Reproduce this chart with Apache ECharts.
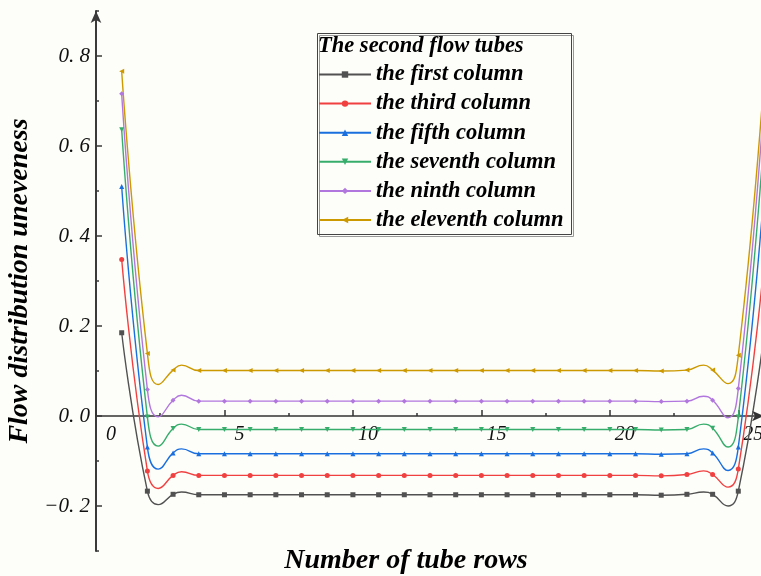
<!DOCTYPE html>
<html lang="en">
	<head>
		<meta charset="UTF-8">
		<title></title>
		<style type="text/css">
			html,
			body {
				width: 100%;
				height: 100%;
				margin: 0;
				padding: 0;
				background: #fdfdf9;
			}

			#main {
				width: 761px;
				height: 576px;
			}
		</style>
	</head>
	<body>
		<div id="main"></div>

		<script src="https://cdn.jsdelivr.net/npm/echarts@6/dist/echarts.min.js" type="text/javascript" charset="utf-8"></script>
		<script type="text/javascript">
			let rows = [1, 2, 3, 4, 5, 6, 7, 8, 9, 10, 11, 12, 13, 14, 15, 16, 17, 18, 19, 20, 21, 22, 23, 24, 25, 26];

			let names = ['the first column', 'the third column', 'the fifth column',
				'the seventh column', 'the ninth column', 'the eleventh column'];
			let colors = ['#515151', '#F14040', '#1A6FDF', '#37AD6B', '#B177DE', '#CC9900'];

			// values at every tube row
			let first = [0.185, -0.167, -0.174, -0.175, -0.175, -0.175, -0.175, -0.175, -0.175, -0.175, -0.175, -0.175, -0.175,
				-0.175, -0.175, -0.175, -0.175, -0.175, -0.175, -0.175, -0.175, -0.176, -0.174, -0.174, -0.167, 0.18];
			let third = [0.348, -0.122, -0.132, -0.132, -0.132, -0.132, -0.132, -0.132, -0.132, -0.132, -0.132, -0.132, -0.132,
				-0.132, -0.132, -0.132, -0.132, -0.132, -0.132, -0.132, -0.132, -0.133, -0.130, -0.130, -0.118, 0.34];
			let fifth = [0.510, -0.069, -0.082, -0.084, -0.084, -0.084, -0.084, -0.084, -0.084, -0.084, -0.084, -0.084, -0.084,
				-0.084, -0.084, -0.084, -0.084, -0.084, -0.084, -0.084, -0.084, -0.085, -0.084, -0.082, -0.069, 0.50];
			let seventh = [0.636, -0.002, -0.028, -0.030, -0.030, -0.030, -0.030, -0.030, -0.030, -0.030, -0.030, -0.030, -0.030,
				-0.030, -0.030, -0.030, -0.030, -0.030, -0.030, -0.030, -0.030, -0.031, -0.030, -0.027, -0.002, 0.62];
			let ninth = [0.716, 0.059, 0.035, 0.033, 0.033, 0.033, 0.033, 0.033, 0.033, 0.033, 0.033, 0.033, 0.033,
				0.033, 0.033, 0.033, 0.033, 0.033, 0.033, 0.033, 0.033, 0.032, 0.033, 0.035, 0.061, 0.70];
			let eleventh = [0.766, 0.139, 0.102, 0.101, 0.101, 0.101, 0.101, 0.101, 0.101, 0.101, 0.101, 0.101, 0.101,
				0.101, 0.101, 0.101, 0.101, 0.101, 0.101, 0.101, 0.101, 0.100, 0.102, 0.102, 0.135, 0.75];

			// dips and bumps of the curves near both ends
			let featureX = [2.42, 3.33, 23.65, 24.6];
			let features = [
				[-0.197, -0.169, -0.169, -0.200],
				[-0.161, -0.124, -0.122, -0.158],
				[-0.118, -0.073, -0.073, -0.121],
				[-0.067, -0.018, -0.018, -0.069],
				[-0.002, 0.046, 0.044, -0.004],
				[0.070, 0.113, 0.113, 0.072]
			];

			let values = [first, third, fifth, seventh, ninth, eleventh];
			let symbols = ['rect', 'circle', 'triangle', 'triangle', 'diamond', 'triangle'];
			let rotates = [0, 0, 0, 180, 0, 90];

			let font = 'Liberation Serif, Times New Roman, serif';

			let series = values.map((vals, i) => {
				let data = rows.map((x, j) => [x, vals[j]]);
				featureX.forEach((x, k) => {
					data.push({
						value: [x, features[i][k]],
						symbol: 'none'
					});
				});
				data.sort((a, b) => (a.value || a)[0] - (b.value || b)[0]);
				return {
					name: names[i],
					type: 'line',
					data: data,
					smooth: 0.5,
					symbol: symbols[i],
					symbolRotate: rotates[i],
					symbolSize: 5,
					showAllSymbol: true,
					lineStyle: {
						width: 1.4,
						color: colors[i]
					},
					itemStyle: {
						color: colors[i]
					}
				};
			});

			var myChart = echarts.init(document.getElementById('main'));
			var option = {
				animation: false,
				backgroundColor: '#fdfdf9',
				grid: {
					left: 96,
					right: -3,
					top: 11,
					bottom: 25,
					containLabel: false,
					outerBoundsMode: 'none'
				},
				title: {
					text: 'The second flow tubes',
					left: 318,
					top: 35,
					padding: 0,
					textStyle: {
						fontFamily: font,
						fontSize: 22.5,
						fontWeight: 'bold',
						fontStyle: 'italic',
						color: '#000'
					}
				},
				legend: {
					data: names,
					orient: 'vertical',
					left: 318,
					top: 63,
					padding: 0,
					itemWidth: 52,
					itemHeight: 8,
					itemGap: 6.1,
					textStyle: {
						fontFamily: font,
						fontSize: 22.5,
						fontWeight: 'bold',
						fontStyle: 'italic',
						color: '#000'
					}
				},
				graphic: [{
					type: 'rect',
					left: 315,
					top: 31,
					shape: {
						width: 254,
						height: 201
					},
					style: {
						fill: 'none',
						stroke: '#444',
						lineWidth: 1,
						shadowColor: '#999',
						shadowOffsetX: 2,
						shadowOffsetY: 2
					}
				}],
				xAxis: {
					type: 'value',
					min: 0,
					max: 26,
					interval: 5,
					position: 'bottom',
					offset: -135,
					name: 'Number of tube rows',
					nameLocation: 'middle',
					nameGap: 131,
					nameTextStyle: {
						fontFamily: font,
						fontSize: 28,
						fontWeight: 'bold',
						fontStyle: 'italic',
						color: '#000',
						padding: [0, 48, 0, 0]
					},
					axisLine: {
						onZero: false,
						symbol: ['none', 'arrow'],
						symbolSize: [8, 12],
						lineStyle: {
							color: '#333',
							width: 1.5
						}
					},
					axisTick: {
						inside: true,
						length: 6,
						lineStyle: {
							color: '#333',
							width: 1.5
						}
					},
					minorTick: {
						show: true,
						splitNumber: 2,
						length: 3,
						lineStyle: {
							color: '#333',
							width: 1.5
						}
					},
					axisLabel: {
						margin: 9,
						padding: [0, 0, 0, 30],
						showMaxLabel: false,
						fontFamily: font,
						fontSize: 20,
						fontStyle: 'italic',
						color: '#111'
					},
					splitLine: {
						show: false
					}
				},
				yAxis: [{
						type: 'value',
						min: -0.3,
						max: 0.9,
						interval: 0.1,
						position: 'left',
						name: 'Flow distribution uneveness',
						nameLocation: 'middle',
						nameGap: 58,
						nameTextStyle: {
							fontFamily: font,
							fontSize: 28,
							fontWeight: 'bold',
							fontStyle: 'italic',
							color: '#000'
						},
						axisLine: {
							symbol: ['none', 'arrow'],
							symbolSize: [8, 12],
							lineStyle: {
								color: '#3a3a3a',
								width: 2
							}
						},
						axisTick: {
							inside: true,
							length: 3,
							lineStyle: {
								color: '#3a3a3a',
								width: 1.5
							}
						},
						axisLabel: {
							margin: 6,
							fontFamily: font,
							fontSize: 21,
							fontStyle: 'italic',
							color: '#111',
							formatter: function(v) {
								if (Math.abs(Math.round(v * 10)) % 2 === 1) return '';
								return v.toFixed(1).replace('-', '\u2212').replace('.', '. ');
							}
						},
						splitLine: {
							show: false
						}
					},
					{
						type: 'value',
						min: -0.3,
						max: 0.9,
						position: 'left',
						offset: 0,
						axisLine: {
							show: false
						},
						axisTick: {
							inside: true,
							length: 6,
							customValues: [-0.2, 0, 0.2, 0.4, 0.6, 0.8],
							lineStyle: {
								color: '#3a3a3a',
								width: 1.5
							}
						},
						axisLabel: {
							show: false
						},
						splitLine: {
							show: false
						}
					}
				],
				series: series
			};

			myChart.setOption(option);
		</script>
	</body>
</html>
